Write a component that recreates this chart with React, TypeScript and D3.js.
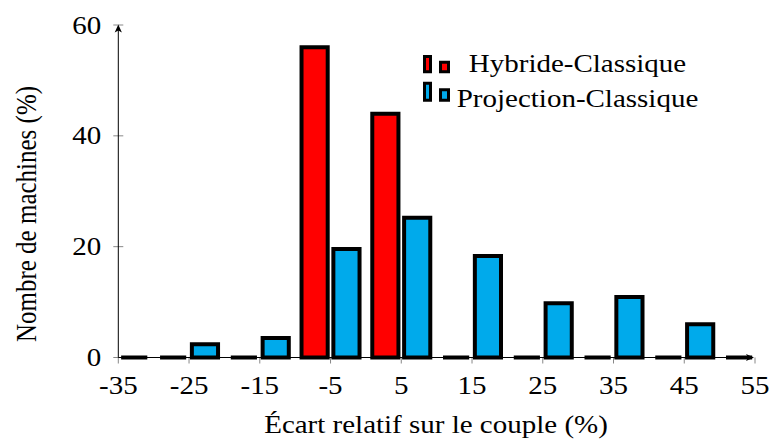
import React from 'react';
import * as d3 from 'd3';

// Relative torque deviation bins (bin centres, %)
const categories = [-35, -25, -15, -5, 5, 15, 25, 35, 45, 55];
// Share of machines per bin (%)
const hybrideClassique = [0, 0, 0, 56, 44, 0, 0, 0, 0, 0];
const projectionClassique = [0, 2.4, 3.5, 19.6, 25.2, 18.3, 9.8, 10.9, 6.0, 0];
const xTickValues = [-35, -25, -15, -5, 5, 15, 25, 35, 45, 55];
const yTickValues = [0, 20, 40, 60];
const seriesNames = ['Hybride-Classique', 'Projection-Classique'];
const seriesColors = ['#ff0000', '#00aaeb'];

const W = 771;
const H = 439;
const SX = 1.16; // horizontal glyph stretch of the typeset text
const FONT = '"Liberation Serif", Tinos, "DejaVu Serif", serif';
const FS = 25;

function SText(props: { x: number; y: number; anchor?: string; rotate?: boolean; size?: number; children: React.ReactNode }) {
  const { x, y, anchor = 'start', rotate = false, size = FS, children } = props;
  return (
    <g transform={`translate(${x},${y}) scale(${SX},1)${rotate ? ' rotate(-90)' : ''}`}>
      <text x={0} y={0} textAnchor={anchor as any} style={{ fontFamily: FONT, fontSize: size }} fill="#000">
        {children}
      </text>
    </g>
  );
}

export default function App() {
  const x = d3.scaleLinear().domain([-35, 55]).range([118.3, 755]);
  const y = d3.scaleLinear().domain([0, 60]).range([357.5, 25]);

  // bar extents relative to the bin centre, in data units
  const offsets: [number, number][] = [
    [-4.1, -0.4],
    [0.4, 4.1],
  ];
  const series = [hybrideClassique, projectionClassique];

  const x0 = x(-35);
  const y0 = y(0);

  // legend glyph geometry: [bottom, tall bar top, short bar top]
  const legendRows = [
    [71.8, 56.5, 62.2],
    [100.2, 83.2, 89.8],
  ];

  return (
    <svg width={W} height={H} style={{ position: 'absolute', left: 0, top: 0, background: '#fff' }}>
      <defs>
        <clipPath id="plot-clip">
          <rect x={x(-35)} y={0} width={x(55) - x(-35)} height={y0 + 6} />
        </clipPath>
      </defs>
      <rect width={W} height={H} fill="#fff" />

      {/* bars (paths so that empty bins still show their outline) */}
      <g clipPath="url(#plot-clip)">
        {series.map((vals, si) =>
          vals.map((v, i) => {
            const c = categories[i];
            const xa = x(c + offsets[si][0]);
            const xb = x(c + offsets[si][1]);
            const yt = y(v);
            return (
              <path
                key={`${si}-${i}`}
                d={`M${xa},${y0}V${yt}H${xb}V${y0}Z`}
                fill={seriesColors[si]}
                stroke="#000"
                strokeWidth={4}
                strokeLinejoin="miter"
              />
            );
          })
        )}
      </g>

      {/* x ticks */}
      {xTickValues.map((t) => (
        <g key={`xt${t}`}>
          <line x1={x(t)} x2={x(t)} y1={y0} y2={y0 + 6} stroke="#888" strokeWidth={1} />
          <SText x={x(t)} y={y0 + 36} anchor="middle">
            {t < 0 ? `-${Math.abs(t)}` : `${t}`}
          </SText>
        </g>
      ))}

      {/* y ticks */}
      {yTickValues.map((t) => (
        <g key={`yt${t}`}>
          <line x1={x0 - 5} x2={x0 + 5} y1={y(t)} y2={y(t)} stroke="#888" strokeWidth={1} />
          <SText x={x0 - 17} y={y(t) + 8.5} anchor="end">
            {`${t}`}
          </SText>
        </g>
      ))}

      {/* axis lines with arrow tips */}
      <line x1={x0} x2={x(55) - 3} y1={y0} y2={y0} stroke="#000" strokeWidth={1} />
      <line x1={x0} x2={x0} y1={y0} y2={y(60) + 2} stroke="#000" strokeWidth={1} />
      <path d="M0,0 L-8,-3.6 L-6,0 L-8,3.6 Z" transform={`translate(${x(55) - 1},${y0})`} fill="#000" />
      <path d="M0,0 L-8,-3.6 L-6,0 L-8,3.6 Z" transform={`translate(${x0},${y(60) - 0.5}) rotate(-90)`} fill="#000" />

      {/* axis labels */}
      <SText x={436} y={433} anchor="middle">
        Écart relatif sur le couple (%)
      </SText>
      <SText x={36} y={214} anchor="middle" rotate>
        Nombre de machines (%)
      </SText>

      {/* legend */}
      {seriesNames.map((name, i) => {
        const [base, tallTop, shortTop] = legendRows[i];
        return (
          <g key={name}>
            <path
              d={`M424.5,${base}V${tallTop}H430.5V${base}Z`}
              fill={seriesColors[i]}
              stroke="#000"
              strokeWidth={3}
            />
            <path
              d={`M440.5,${base}V${shortTop}H448.5V${base}Z`}
              fill={seriesColors[i]}
              stroke="#000"
              strokeWidth={3}
            />
            <SText x={577.5} y={72 + i * 35} anchor="middle">
              {name}
            </SText>
          </g>
        );
      })}
    </svg>
  );
}
